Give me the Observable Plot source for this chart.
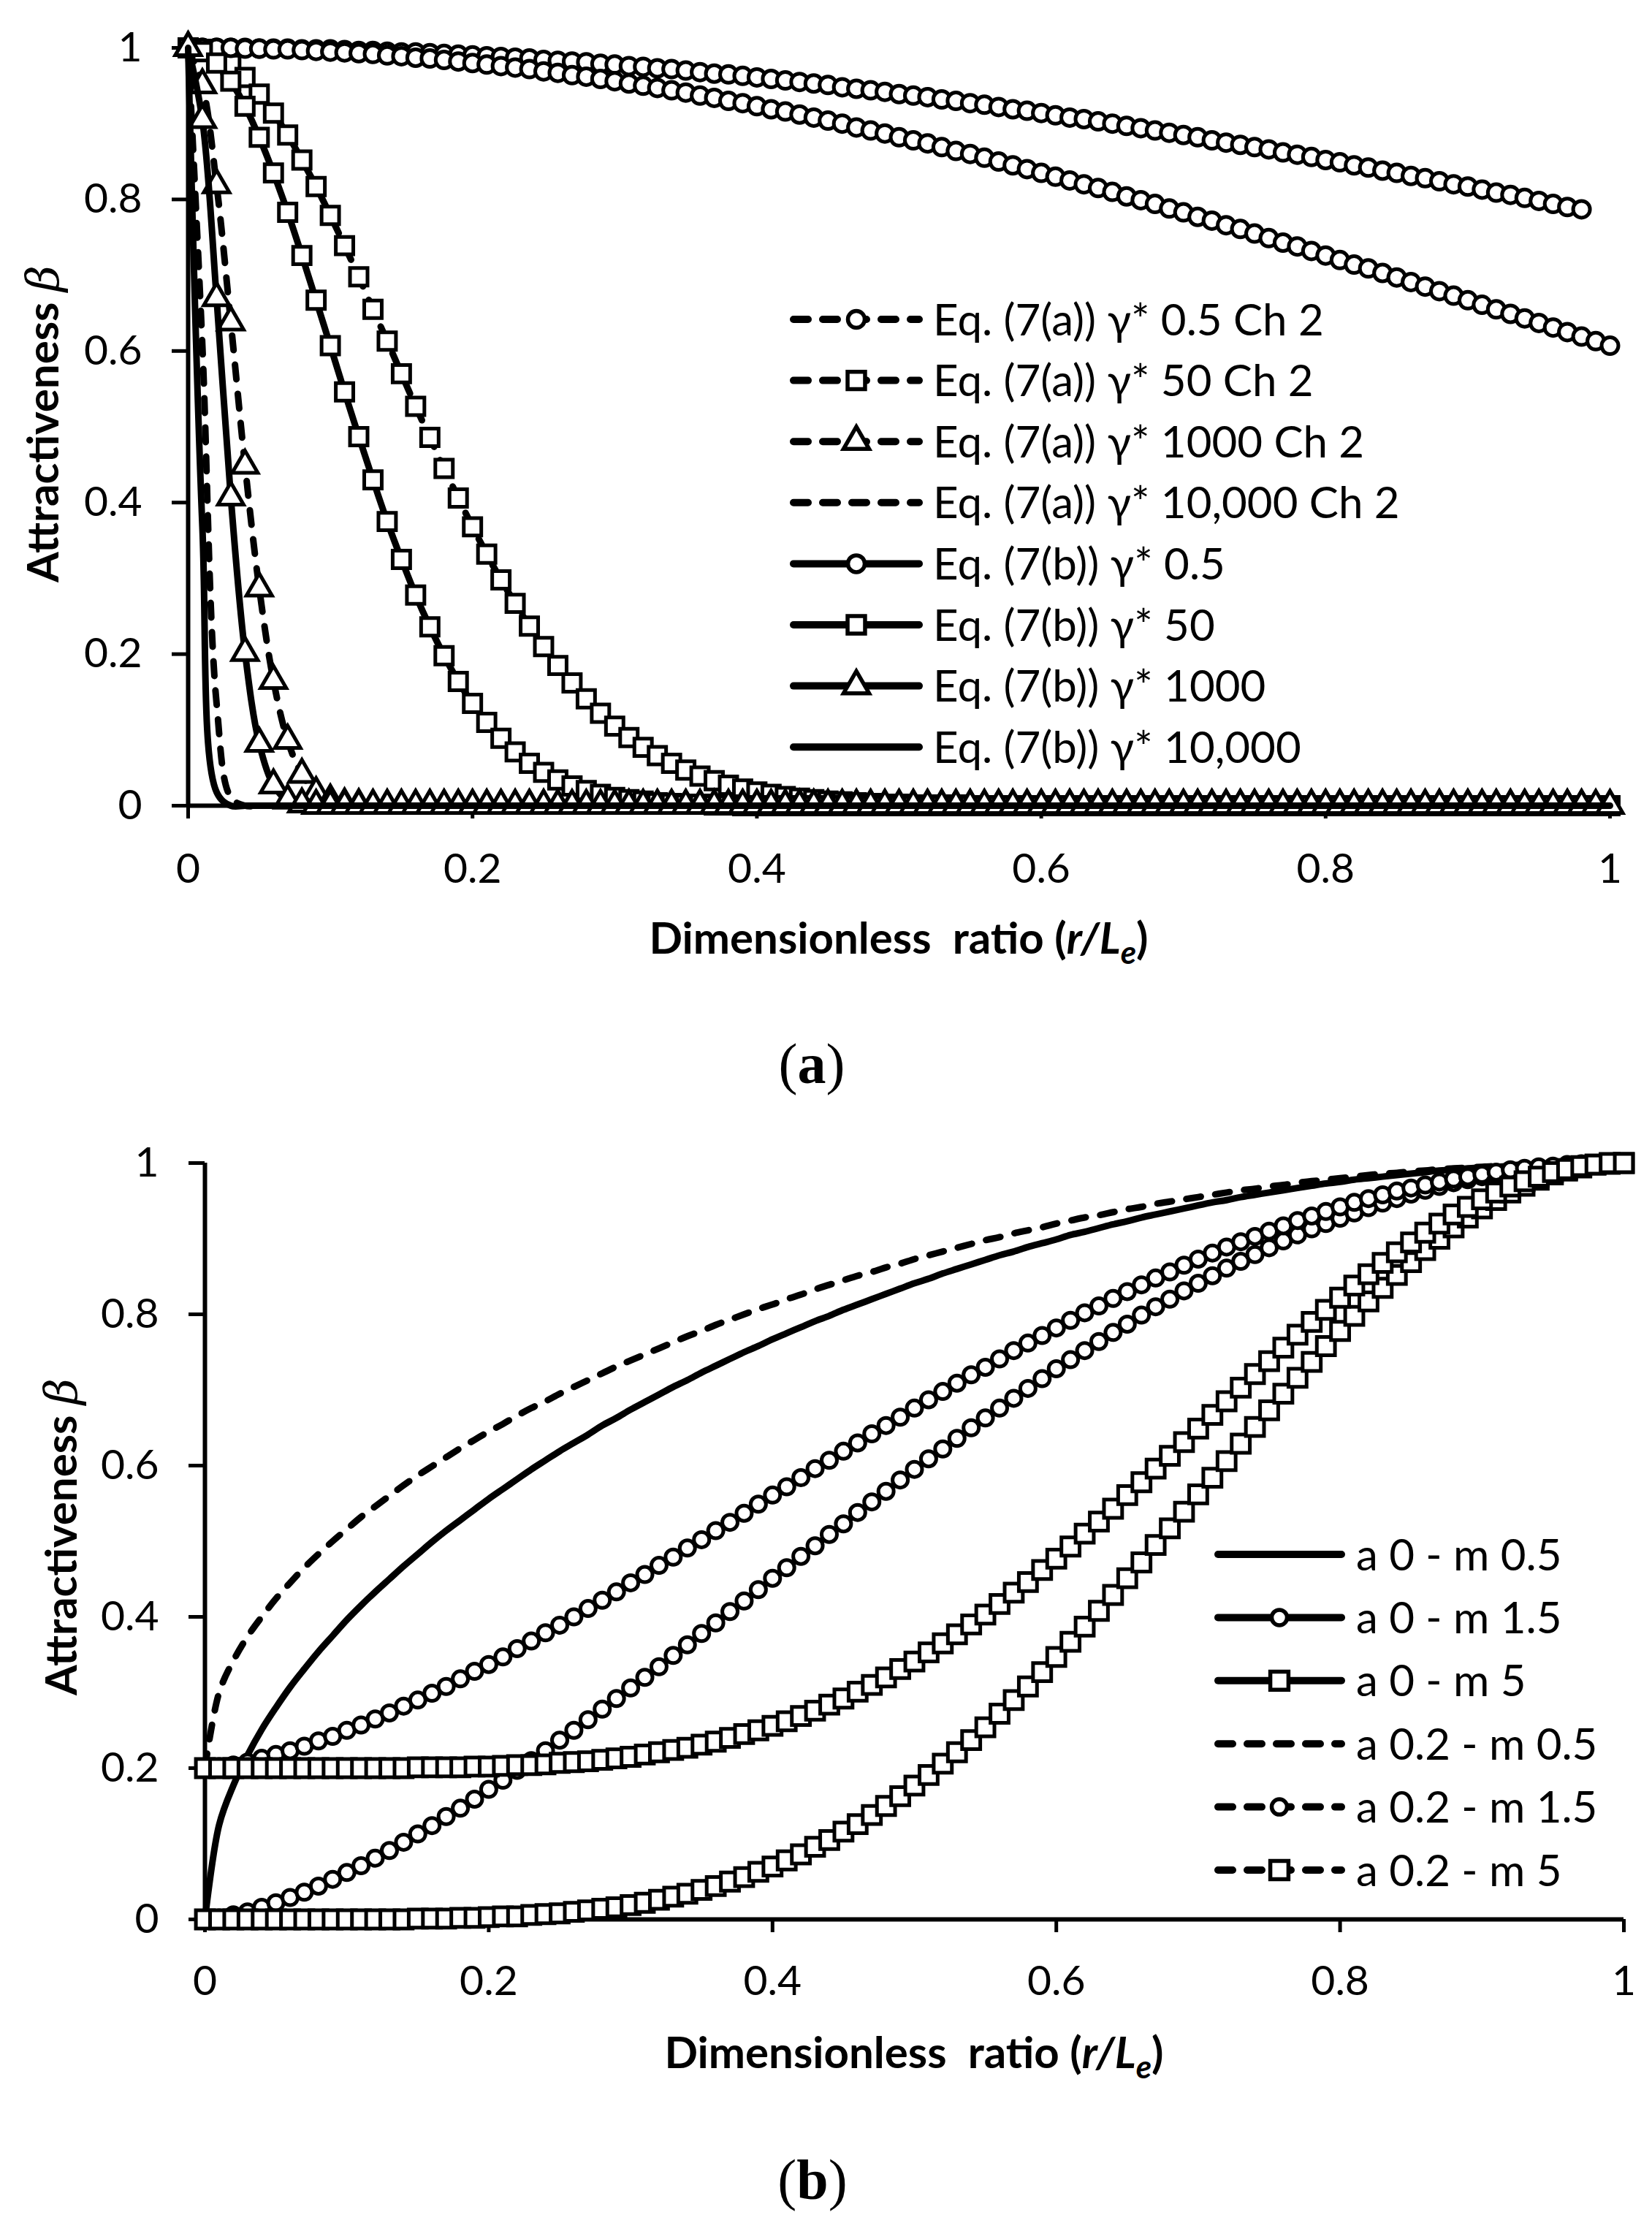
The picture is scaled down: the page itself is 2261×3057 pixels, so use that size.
<!DOCTYPE html>
<html><head><meta charset="utf-8">
<script src="https://cdn.jsdelivr.net/npm/d3@7"></script>
<script src="https://cdn.jsdelivr.net/npm/@observablehq/plot@0.6"></script>
<style>
html,body{margin:0;padding:0;background:#fff;}
#page{position:relative;width:2261px;height:3057px;overflow:hidden;background:#fff;}
.panel{position:absolute;left:0;}
.cap{position:absolute;width:400px;text-align:center;font-family:"Liberation Serif",serif;font-size:78px;line-height:78px;color:#000;}
</style></head><body><div id="page"></div>
<script>
// x grid (r/Le)
const r = [
0,0.01,0.02,0.03,0.04,0.05,0.06,0.07,0.08,0.09,
0.1,0.11,0.12,0.13,0.14,0.15,0.16,0.17,0.18,0.19,
0.2,0.21,0.22,0.23,0.24,0.25,0.26,0.27,0.28,0.29,
0.3,0.31,0.32,0.33,0.34,0.35,0.36,0.37,0.38,0.39,
0.4,0.41,0.42,0.43,0.44,0.45,0.46,0.47,0.48,0.49,
0.5,0.51,0.52,0.53,0.54,0.55,0.56,0.57,0.58,0.59,
0.6,0.61,0.62,0.63,0.64,0.65,0.66,0.67,0.68,0.69,
0.7,0.71,0.72,0.73,0.74,0.75,0.76,0.77,0.78,0.79,
0.8,0.81,0.82,0.83,0.84,0.85,0.86,0.87,0.88,0.89,
0.9,0.91,0.92,0.93,0.94,0.95,0.96,0.97,0.98,0.99,
1];

// ---- Panel (a) ----
const eqA_g05 = [
1.000,1.000,1.000,1.000,1.000,0.999,0.999,0.999,0.998,0.998,
0.998,0.997,0.996,0.996,0.995,0.994,0.994,0.993,0.992,0.991,
0.990,0.989,0.988,0.987,0.986,0.984,0.983,0.982,0.981,0.979,
0.978,0.976,0.975,0.973,0.972,0.970,0.968,0.966,0.965,0.963,
0.961,0.959,0.957,0.955,0.953,0.951,0.948,0.946,0.944,0.942,
0.939,0.937,0.935,0.932,0.930,0.927,0.925,0.922,0.919,0.917,
0.914,0.911,0.908,0.906,0.903,0.900,0.897,0.894,0.891,0.888,
0.885,0.882,0.878,0.875,0.872,0.869,0.866,0.862,0.859,0.856,
0.852,0.849,0.845,0.842,0.838,0.835,0.831,0.828,0.824,0.820,
0.817,0.813,0.809,0.806,0.802,0.798,0.794,0.790,0.787];
const eqA_g50 = [
1.000,0.998,0.990,0.978,0.961,0.939,0.914,0.885,0.852,0.817,
0.779,0.739,0.698,0.655,0.613,0.570,0.527,0.486,0.445,0.406,
0.368,0.332,0.298,0.267,0.237,0.210,0.185,0.162,0.141,0.122,
0.105,0.090,0.077,0.066,0.056,0.047,0.039,0.033,0.027,0.022,
0.018,0.015,0.012,0.010,0.008,0.006,0.005,0.004,0.003,0.002,
0.002,0.001,0.001,0.001,0.001,0,0,0,0,0,
0,0,0,0,0,0,0,0,0,0,
0,0,0,0,0,0,0,0,0,0,
0,0,0,0,0,0,0,0,0,0,
0,0,0,0,0,0,0,0,0];
const eqA_g1000 = [
1.000,0.951,0.819,0.638,0.449,0.287,0.165,0.086,0.041,0.017,
0.007,0.002,0.001,0,0,0,0,0,0,0,
0,0,0,0,0,0,0,0,0,0,
0,0,0,0,0,0,0,0,0,0,
0,0,0,0,0,0,0,0,0,0,
0,0,0,0,0,0,0,0,0,0,
0,0,0,0,0,0,0,0,0,0,
0,0,0,0,0,0,0,0,0,0,
0,0,0,0,0,0,0,0,0,0,
0,0,0,0,0,0,0,0,0];
const eqA_g10000 = [
1.000,0.607,0.135,0.011,0,0,0,0,0,0,
0,0,0,0,0,0,0,0,0,0,
0,0,0,0,0,0,0,0,0,0,
0,0,0,0,0,0,0,0,0,0,
0,0,0,0,0,0,0,0,0,0,
0,0,0,0,0,0,0,0,0,0,
0,0,0,0,0,0,0,0,0,0,
0,0,0,0,0,0,0,0,0,0,
0,0,0,0,0,0,0,0,0,0,
0,0,0,0,0,0,0,0,0];
const eqB_g05 = [
1.000,1.000,1.000,1.000,0.999,0.999,0.998,0.998,0.997,0.996,
0.995,0.994,0.993,0.992,0.990,0.989,0.987,0.986,0.984,0.982,
0.980,0.978,0.976,0.974,0.972,0.969,0.967,0.964,0.962,0.959,
0.956,0.953,0.950,0.947,0.944,0.941,0.937,0.934,0.930,0.927,
0.923,0.919,0.916,0.912,0.908,0.904,0.900,0.895,0.891,0.887,
0.882,0.878,0.874,0.869,0.864,0.860,0.855,0.850,0.845,0.840,
0.835,0.830,0.825,0.820,0.815,0.810,0.804,0.799,0.794,0.788,
0.783,0.777,0.772,0.766,0.761,0.755,0.749,0.743,0.738,0.732,
0.726,0.720,0.714,0.709,0.703,0.697,0.691,0.685,0.679,0.673,
0.667,0.661,0.655,0.649,0.643,0.637,0.631,0.625,0.619,0.613,
0.607];
const eqB_g50 = [
1.000,0.995,0.980,0.956,0.923,0.882,0.835,0.783,0.726,0.667,
0.607,0.546,0.487,0.430,0.375,0.325,0.278,0.236,0.198,0.164,
0.135,0.110,0.089,0.071,0.056,0.044,0.034,0.026,0.020,0.015,
0.011,0.008,0.006,0.004,0.003,0.002,0.002,0.001,0.001,0,
0,0,0,0,0,0,0,0,0,0,
0,0,0,0,0,0,0,0,0,0,
0,0,0,0,0,0,0,0,0,0,
0,0,0,0,0,0,0,0,0,0,
0,0,0,0,0,0,0,0,0,0,
0,0,0,0,0,0,0,0,0,0,
0];
const eqB_g1000 = [
1.000,0.905,0.670,0.407,0.202,0.082,0.027,0.007,0.002,0,
0,0,0,0,0,0,0,0,0,0,
0,0,0,0,0,0,0,0,0,0,
0,0,0,0,0,0,0,0,0,0,
0,0,0,0,0,0,0,0,0,0,
0,0,0,0,0,0,0,0,0,0,
0,0,0,0,0,0,0,0,0,0,
0,0,0,0,0,0,0,0,0,0,
0,0,0,0,0,0,0,0,0,0,
0,0,0,0,0,0,0,0,0,0,
0];
const eqB_g10000 = [
1.000,0.368,0.018,0,0,0,0,0,0,0,
0,0,0,0,0,0,0,0,0,0,
0,0,0,0,0,0,0,0,0,0,
0,0,0,0,0,0,0,0,0,0,
0,0,0,0,0,0,0,0,0,0,
0,0,0,0,0,0,0,0,0,0,
0,0,0,0,0,0,0,0,0,0,
0,0,0,0,0,0,0,0,0,0,
0,0,0,0,0,0,0,0,0,0,
0,0,0,0,0,0,0,0,0,0,
0];
const labelsA = [
"Eq. (7(a)) \u03b3* 0.5 Ch 2","Eq. (7(a)) \u03b3* 50 Ch 2","Eq. (7(a)) \u03b3* 1000 Ch 2","Eq. (7(a)) \u03b3* 10,000 Ch 2",
"Eq. (7(b)) \u03b3* 0.5","Eq. (7(b)) \u03b3* 50","Eq. (7(b)) \u03b3* 1000","Eq. (7(b)) \u03b3* 10,000"];

// ---- Panel (b) ----
const a0_m05 = [
0,0.125,0.177,0.217,0.251,0.280,0.307,0.331,0.354,0.375,
0.396,0.415,0.433,0.450,0.467,0.483,0.499,0.514,0.528,0.542,
0.556,0.569,0.582,0.595,0.607,0.619,0.630,0.641,0.653,0.663,
0.674,0.684,0.694,0.704,0.713,0.723,0.732,0.741,0.750,0.758,
0.767,0.775,0.783,0.791,0.798,0.806,0.813,0.820,0.827,0.834,
0.841,0.847,0.854,0.860,0.866,0.872,0.878,0.883,0.889,0.894,
0.899,0.905,0.909,0.914,0.919,0.923,0.928,0.932,0.936,0.940,
0.944,0.948,0.951,0.955,0.958,0.961,0.964,0.967,0.970,0.973,
0.975,0.978,0.980,0.982,0.984,0.986,0.988,0.990,0.991,0.993,
0.994,0.995,0.996,0.997,0.998,0.998,0.999,0.999,1.000,1.000,
1.000];
const a0_m15 = [
0,0.002,0.006,0.010,0.016,0.022,0.029,0.036,0.044,0.053,
0.062,0.071,0.081,0.091,0.102,0.113,0.124,0.136,0.147,0.159,
0.172,0.184,0.197,0.210,0.223,0.237,0.250,0.264,0.278,0.292,
0.306,0.320,0.334,0.349,0.363,0.378,0.392,0.407,0.421,0.436,
0.451,0.465,0.480,0.494,0.509,0.523,0.538,0.552,0.566,0.581,
0.595,0.609,0.622,0.636,0.650,0.663,0.676,0.689,0.702,0.715,
0.728,0.740,0.752,0.764,0.776,0.787,0.799,0.810,0.820,0.831,
0.841,0.851,0.861,0.870,0.879,0.888,0.897,0.905,0.913,0.920,
0.927,0.934,0.941,0.947,0.953,0.959,0.964,0.969,0.974,0.978,
0.982,0.985,0.988,0.991,0.993,0.995,0.997,0.998,0.999,1.000,
1.000];
const a0_m5 = [
0,0,0,0,0,0,0,0,0,0,
0,0,0,0,0,0.001,0.001,0.001,0.002,0.002,
0.003,0.004,0.004,0.006,0.007,0.008,0.010,0.012,0.014,0.016,
0.019,0.022,0.026,0.030,0.034,0.039,0.044,0.050,0.056,0.063,
0.070,0.078,0.086,0.096,0.105,0.116,0.126,0.138,0.150,0.163,
0.177,0.191,0.206,0.221,0.237,0.254,0.272,0.290,0.308,0.327,
0.347,0.367,0.387,0.408,0.429,0.451,0.472,0.495,0.517,0.539,
0.562,0.584,0.606,0.629,0.651,0.673,0.695,0.716,0.737,0.758,
0.778,0.798,0.817,0.835,0.852,0.869,0.885,0.900,0.915,0.928,
0.940,0.951,0.961,0.970,0.978,0.985,0.990,0.994,0.998,0.999,
1.000];
const a02_m05 = [
0.200,0.300,0.342,0.374,0.400,0.424,0.445,0.465,0.483,0.500,
0.516,0.532,0.546,0.560,0.574,0.587,0.599,0.611,0.623,0.634,
0.645,0.655,0.666,0.676,0.685,0.695,0.704,0.713,0.722,0.731,
0.739,0.747,0.755,0.763,0.771,0.778,0.786,0.793,0.800,0.807,
0.813,0.820,0.826,0.833,0.839,0.845,0.851,0.856,0.862,0.867,
0.873,0.878,0.883,0.888,0.893,0.898,0.902,0.907,0.911,0.915,
0.920,0.924,0.928,0.931,0.935,0.939,0.942,0.946,0.949,0.952,
0.955,0.958,0.961,0.964,0.966,0.969,0.971,0.974,0.976,0.978,
0.980,0.982,0.984,0.986,0.987,0.989,0.990,0.992,0.993,0.994,
0.995,0.996,0.997,0.998,0.998,0.999,0.999,1.000,1.000,1.000,
1.000];
const a02_m15 = [
0.200,0.202,0.204,0.208,0.213,0.218,0.223,0.229,0.236,0.242,
0.250,0.257,0.265,0.273,0.282,0.290,0.299,0.308,0.318,0.328,
0.337,0.347,0.358,0.368,0.379,0.389,0.400,0.411,0.422,0.433,
0.445,0.456,0.468,0.479,0.491,0.502,0.514,0.525,0.537,0.549,
0.561,0.572,0.584,0.596,0.607,0.619,0.630,0.642,0.653,0.664,
0.676,0.687,0.698,0.709,0.720,0.730,0.741,0.752,0.762,0.772,
0.782,0.792,0.802,0.811,0.821,0.830,0.839,0.848,0.856,0.865,
0.873,0.881,0.889,0.896,0.903,0.910,0.917,0.924,0.930,0.936,
0.942,0.948,0.953,0.958,0.963,0.967,0.971,0.975,0.979,0.982,
0.985,0.988,0.991,0.993,0.995,0.996,0.998,0.999,0.999,1.000,
1.000];
const a02_m5 = [
0.200,0.200,0.200,0.200,0.200,0.200,0.200,0.200,0.200,0.200,
0.200,0.200,0.200,0.200,0.200,0.201,0.201,0.201,0.201,0.202,
0.202,0.203,0.204,0.204,0.205,0.207,0.208,0.209,0.211,0.213,
0.215,0.218,0.221,0.224,0.227,0.231,0.235,0.240,0.245,0.250,
0.256,0.262,0.269,0.276,0.284,0.292,0.301,0.310,0.320,0.331,
0.341,0.353,0.365,0.377,0.390,0.403,0.417,0.432,0.446,0.462,
0.477,0.493,0.510,0.526,0.543,0.561,0.578,0.596,0.613,0.631,
0.649,0.667,0.685,0.703,0.721,0.738,0.756,0.773,0.790,0.806,
0.822,0.838,0.853,0.868,0.882,0.895,0.908,0.920,0.932,0.942,
0.952,0.961,0.969,0.976,0.982,0.988,0.992,0.996,0.998,1.000,
1.000];
const labelsB = ["a 0 - m 0.5","a 0 - m 1.5","a 0 - m 5","a 0.2 - m 0.5","a 0.2 - m 1.5","a 0.2 - m 5"];

const tickVals = [0,0.2,0.4,0.6,0.8,1];
const tickLabels = ["0","0.2","0.4","0.6","0.8","1"];

// ---------- drawing ----------
const FONT = "Lato";
const FS = 57;      // tick labels
const FT = 60;      // titles and legend
const LW = 9;
const MSW = 5;
const DASH = "20,20";

function rows(values){ return values.map((v,i)=>({x:r[i], y:v})).filter(d=>d.x!==undefined); }

function makeChart(cfg){
  const marks = [
    Plot.ruleY([0], {stroke:"#000", strokeWidth:6}),
    Plot.ruleX([0], {stroke:"#000", strokeWidth:6}),
    Plot.axisX({ticks:tickVals, tickFormat:d=>tickLabels[tickVals.indexOf(d)], tickSize:18, tickPadding:cfg.xPad, strokeWidth:5, fontSize:FS, label:null}),
    Plot.axisY({ticks:tickVals, tickFormat:d=>tickLabels[tickVals.indexOf(d)], tickSize:22, tickPadding:41, strokeWidth:5, fontSize:FS, label:null})
  ];
  for(const s of cfg.series){
    const data = rows(s.values);
    const lo = {x:"x", y:"y", stroke:"#000", strokeWidth:LW, curve:"catmull-rom", strokeLinecap:"round", strokeLinejoin:"round"};
    if(s.dash) lo.strokeDasharray = DASH;
    marks.push(Plot.line(data, lo));
    if(s.symbol) marks.push(Plot.dot(data, {x:"x", y:"y", symbol:s.symbol, r:s.r, fill:"#fff", stroke:"#000", strokeWidth:MSW}));
  }
  const el = Plot.plot({
    width:2261, height:cfg.height,
    marginLeft:cfg.ml, marginRight:cfg.mr, marginTop:cfg.mt, marginBottom:cfg.mb,
    x:{domain:[0,1]}, y:{domain:[0,1]},
    style:{fontFamily:FONT, fontSize:FS+"px", color:"#000", background:"#fff", overflow:"visible"},
    marks
  });
  const svg = d3.select(el);
  // x axis title
  const t = svg.append("text").attr("x", cfg.xt[0]).attr("y", cfg.xt[1]).attr("text-anchor","middle")
    .attr("font-family",FONT).attr("font-size",FT).attr("font-weight","bold").attr("fill","#000")
    .attr("xml:space","preserve").style("white-space","pre");
  t.append("tspan").text("Dimensionless  ratio (");
  t.append("tspan").attr("font-style","italic").text("r/L");
  t.append("tspan").attr("font-style","italic").attr("font-size",44).attr("dy",14).text("e");
  t.append("tspan").attr("dy",-14).text(")");
  // y axis title
  const yt = svg.append("text").attr("transform",`translate(${cfg.yt[0]},${cfg.yt[1]}) rotate(-90)`).attr("text-anchor","middle")
    .attr("font-family",FONT).attr("font-size",FT).attr("fill","#000")
    .attr("xml:space","preserve").style("white-space","pre");
  yt.append("tspan").attr("font-weight","bold").text("Attractiveness ");
  yt.append("tspan").attr("font-family","'DejaVu Serif', serif").attr("font-style","italic").attr("font-size",62).text("\u03b2");
  // legend
  const g = svg.append("g").attr("text-anchor","start");
  cfg.series.forEach((s,k)=>{
    const y = cfg.leg.y0 + k*cfg.leg.dy;
    const ln = g.append("line").attr("x1",cfg.leg.x1).attr("x2",cfg.leg.x2).attr("y1",y).attr("y2",y)
      .attr("stroke","#000").attr("stroke-width",10).attr("stroke-linecap","round");
    if(s.dash) ln.attr("stroke-dasharray",DASH);
    if(s.symbol){
      const type = {circle:d3.symbolCircle, square:d3.symbolSquare, triangle:d3.symbolTriangle}[s.symbol];
      g.append("path").attr("d", d3.symbol(type, s.r*s.r*Math.PI)()).attr("transform",`translate(${cfg.leg.xm},${y})`)
        .attr("fill","#fff").attr("stroke","#000").attr("stroke-width",MSW+0.5);
    }
    g.append("text").attr("x",cfg.leg.xt).attr("y",y+21.5).attr("text-anchor","start")
      .attr("font-family",FONT).attr("font-size",FT).attr("fill","#000").text(cfg.labels[k]);
  });
  return el;
}

const seriesA = [
  {values:eqA_g05, dash:true, symbol:"circle", r:11.5},
  {values:eqA_g50, dash:true, symbol:"square", r:13.5},
  {values:eqA_g1000, dash:true, symbol:"triangle", r:13},
  {values:eqA_g10000, dash:true, symbol:null},
  {values:eqB_g05, dash:false, symbol:"circle", r:11.5},
  {values:eqB_g50, dash:false, symbol:"square", r:13.5},
  {values:eqB_g1000, dash:false, symbol:"triangle", r:13},
  {values:eqB_g10000, dash:false, symbol:null}
];
const seriesB = [
  {values:a0_m05, dash:false, symbol:null},
  {values:a0_m15, dash:false, symbol:"circle", r:10.5},
  {values:a0_m5, dash:false, symbol:"square", r:14},
  {values:a02_m05, dash:true, symbol:null},
  {values:a02_m15, dash:true, symbol:"circle", r:10.5},
  {values:a02_m5, dash:true, symbol:"square", r:14}
];

const page = document.getElementById("page");

const chartA = makeChart({
  series:seriesA, labels:labelsA, height:1330, ml:257, mr:58, mt:65, mb:228, xPad:47,
  xt:[1230,1305], yt:[80,580],
  leg:{y0:437, dy:83.6, x1:1086, x2:1258, xm:1172, xt:1277}
});
chartA.classList.add("panel"); chartA.style.top = "0px";
page.appendChild(chartA);

const capA = document.createElement("div");
capA.className = "cap"; capA.style.left = "911px"; capA.style.top = "1417px";
capA.innerHTML = "(<b>a</b>)";
page.appendChild(capA);

const chartB = makeChart({
  series:seriesB, labels:labelsB, height:1360, ml:280, mr:39, mt:91, mb:234, xPad:45,
  xt:[1251,1330], yt:[105,603],
  leg:{y0:627, dy:86.4, x1:1667, x2:1836, xm:1751, xt:1856}
});
chartB.classList.add("panel"); chartB.style.top = "1500px";
page.appendChild(chartB);

const capB = document.createElement("div");
capB.className = "cap"; capB.style.left = "912px"; capB.style.top = "2944px";
capB.innerHTML = "(<b>b</b>)";
page.appendChild(capB);
</script>
</body></html>
